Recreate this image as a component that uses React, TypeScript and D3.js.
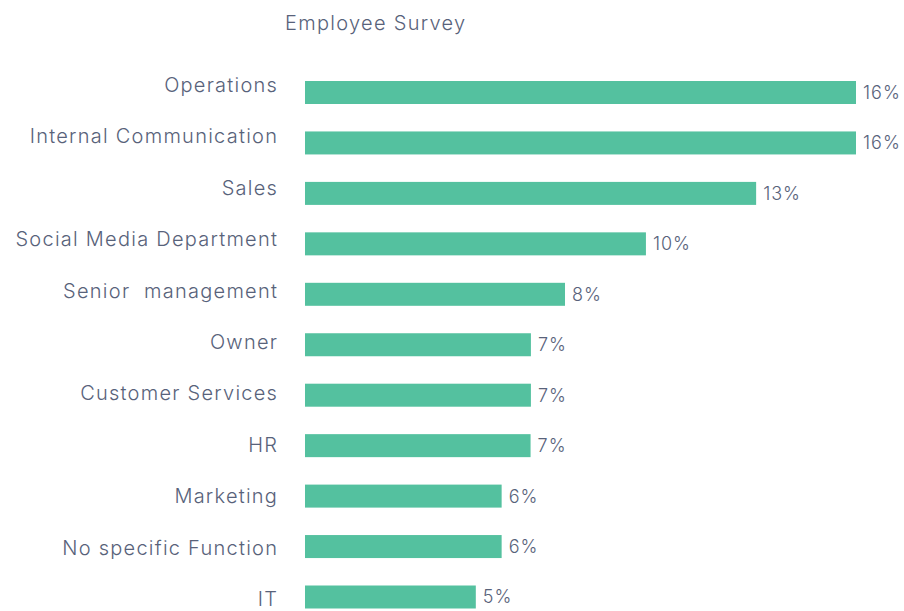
import React from "react";
import * as d3 from "d3";

const categories = [
  "Operations",
  "Internal Communication",
  "Sales",
  "Social Media Department",
  "Senior  management",
  "Owner",
  "Customer Services",
  "HR",
  "Marketing",
  "No specific Function",
  "IT",
];
const values = [16.0, 16.0, 13.1, 9.9, 7.55, 6.56, 6.56, 6.55, 5.71, 5.71, 4.96];
const title = "Employee Survey";

const W = 904;
const H = 611;
const FONT = "Inter, 'Open Sans', Lato, sans-serif";
const TEXT = "#58627a";
const BAR = "#54c19f";

export default function App() {
  const x = d3.scaleLinear().domain([0, 16]).range([305, 856]);
  const yBar = d3.scalePoint<string>().domain(categories).range([92.5, 597]);
  const yLab = d3.scalePoint<string>().domain(categories).range([84.5, 599]);
  const barH = 23;
  const fmt = (v: number) => `${Math.round(v)}%`;

  return (
    <svg
      width={W}
      height={H}
      style={{ position: "absolute", left: 0, top: 0, background: "#fff" }}
      fontFamily={FONT}
    >
      <text x={285} y={30} fill={TEXT} fontSize={20} fontWeight={300} letterSpacing={1.3}>
        {title}
      </text>
      {categories.map((c, i) => (
        <g key={c}>
          <text
            x={278.2}
            y={yLab(c)}
            dy="0.36em"
            textAnchor="end"
            fill={TEXT}
            fontSize={20}
            fontWeight={300}
            letterSpacing={1.25}
            style={{ whiteSpace: "pre" }}
          >
            {c}
          </text>
          <rect
            x={x(0)}
            y={(yBar(c) as number) - barH / 2}
            width={x(values[i]) - x(0)}
            height={barH}
            fill={BAR}
          />
          <text
            x={x(values[i]) + 7}
            y={yBar(c)}
            dy="0.36em"
            fill={TEXT}
            fontSize={18}
            fontWeight={300}
            letterSpacing={1}
          >
            {fmt(values[i])}
          </text>
        </g>
      ))}
    </svg>
  );
}
